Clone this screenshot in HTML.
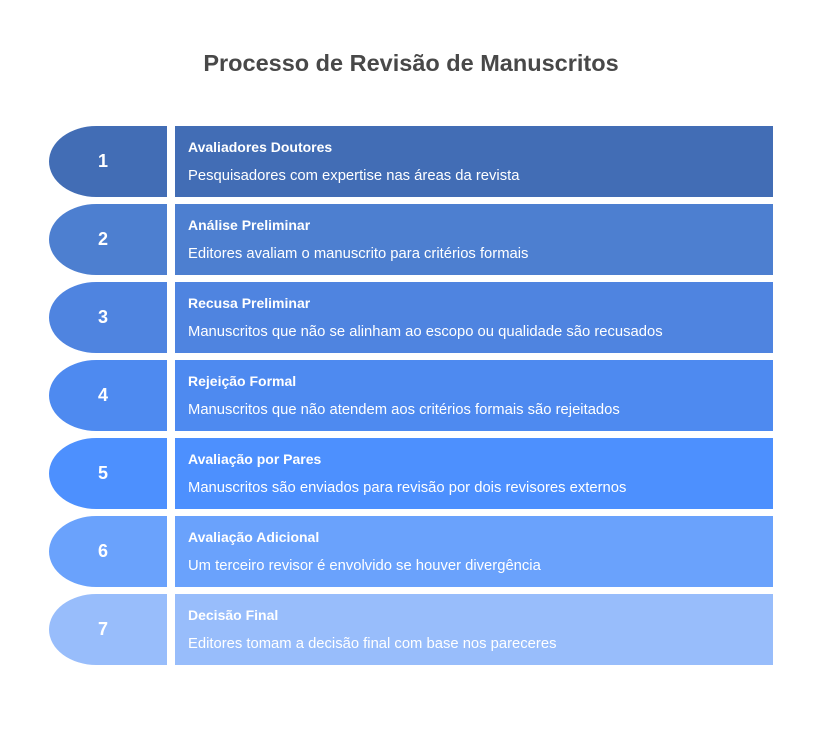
<!DOCTYPE html>
<html><head><meta charset="utf-8"><style>
body{margin:0;width:822px;height:738px;background:#fff;font-family:"Liberation Sans",Arial,sans-serif;position:relative;overflow:hidden}
h1{position:absolute;top:50px;left:0;width:822px;text-align:center;margin:0;font-size:23.5px;font-weight:bold;color:#484848}
.l{position:absolute;left:49px;width:118px;height:71px;border-radius:48px 0 0 48px/36px 0 0 36px;color:#fff;font-weight:bold;font-size:18px;display:flex;align-items:center;justify-content:center;box-sizing:border-box;padding-right:10px}
.r{position:absolute;left:175px;width:598px;height:71px;color:#fff}
.r b{position:absolute;left:13px;top:13px;font-size:14px}
.r span{position:absolute;left:13px;top:42px;font-size:14.8px}
</style></head><body>
<h1>Processo de Revisão de Manuscritos</h1>
<div class="l" style="top:126px;background:#426db5">1</div><div class="r" style="top:126px;background:#426db5"><b>Avaliadores Doutores</b><span>Pesquisadores com expertise nas áreas da revista</span></div>
<div class="l" style="top:204px;background:#4d7fd0">2</div><div class="r" style="top:204px;background:#4d7fd0"><b>Análise Preliminar</b><span>Editores avaliam o manuscrito para critérios formais</span></div>
<div class="l" style="top:282px;background:#4f84e0">3</div><div class="r" style="top:282px;background:#4f84e0"><b>Recusa Preliminar</b><span>Manuscritos que não se alinham ao escopo ou qualidade são recusados</span></div>
<div class="l" style="top:360px;background:#4e8af0">4</div><div class="r" style="top:360px;background:#4e8af0"><b>Rejeição Formal</b><span>Manuscritos que não atendem aos critérios formais são rejeitados</span></div>
<div class="l" style="top:438px;background:#4d90fe">5</div><div class="r" style="top:438px;background:#4d90fe"><b>Avaliação por Pares</b><span>Manuscritos são enviados para revisão por dois revisores externos</span></div>
<div class="l" style="top:516px;background:#6aa2fc">6</div><div class="r" style="top:516px;background:#6aa2fc"><b>Avaliação Adicional</b><span>Um terceiro revisor é envolvido se houver divergência</span></div>
<div class="l" style="top:594px;background:#98bdfb">7</div><div class="r" style="top:594px;background:#98bdfb"><b>Decisão Final</b><span>Editores tomam a decisão final com base nos pareceres</span></div>
</body></html>
